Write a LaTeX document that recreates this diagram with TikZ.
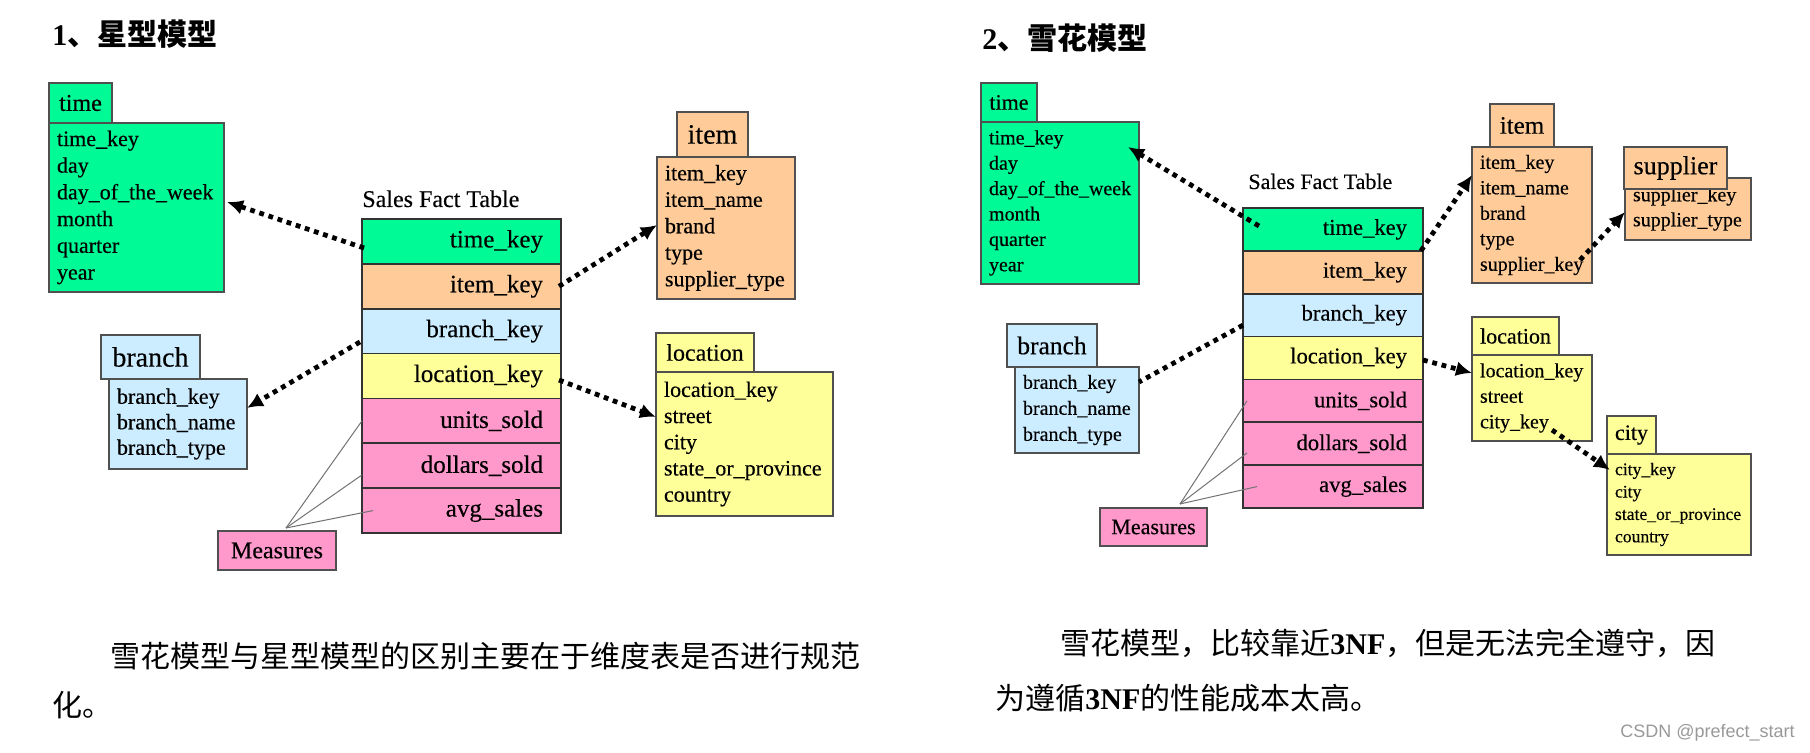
\documentclass[tikz,border=0pt]{standalone}
\usepackage{fontspec}
\setmainfont{Liberation Serif}
\newfontfamily\tabfont{Liberation Serif}[UprightFeatures = {FakeBold = 0.35}]
\newfontfamily\cjk{Noto Sans CJK SC}
\newfontfamily\markfont{Liberation Sans}
\usetikzlibrary{positioning,arrows.meta}
\definecolor{keygreen}{RGB}{0,250,150}
\definecolor{keyorange}{RGB}{255,204,153}
\definecolor{keyblue}{RGB}{204,236,255}
\definecolor{keyyellow}{RGB}{255,255,153}
\definecolor{keypink}{RGB}{255,153,204}
\definecolor{edge}{RGB}{80,80,80}
\begin{document}
\begin{tikzpicture}[x = 0.5pt, y = -0.5pt,
  head/.style = {draw = edge, line width = 0.6pt, anchor = north west, inner sep = 0pt, outer sep = 0pt},
  body/.style = {draw = edge, line width = 0.6pt, anchor = north west, inner xsep = 4pt, inner ysep = 0pt, outer sep = 0pt, align = left},
  frow/.style = {draw = black!80, line width = 0.8pt, anchor = north west, inner ysep = 0pt, outer sep = 0pt, align = right},
  rowa/.style = {frow, inner xsep = 9pt, text width = 81.5pt, minimum height = 22.43pt, font = \tabfont\fontsize{12.5}{15}\selectfont},
  rowb/.style = {frow, inner xsep = 8pt, text width = 74pt, minimum height = 21.43pt, font = \tabfont\fontsize{11.3}{13.5}\selectfont},
  link/.style = {line width = 2.4pt, dash pattern = on 2.4pt off 2.4pt, -{Latex[length = 8pt, width = 7.5pt]}},
  meas/.style = {draw = black!55, line width = 0.5pt},
  cn/.style = {anchor = west, inner sep = 0pt, font = \cjk\fontsize{15}{18}\selectfont}]
\fill [white] (0, 0) rectangle (1810, 753);

\node [cn, font = \cjk\bfseries\fontsize{15}{18}\selectfont] (title1) at (52, 34) {{\tabfont 1}、星型模型};
\node [anchor = base west, inner sep = 0pt, font = \tabfont\fontsize{12}{14}\selectfont] (fact1) at (362, 207) {Sales Fact Table};
\node [rowa, fill = keygreen] (f1time) at (362, 219) {time\_key};
\node [rowa, fill = keyorange, below = 0pt of f1time] (f1item) {item\_key};
\node [rowa, fill = keyblue, below = 0pt of f1item] (f1branch) {branch\_key};
\node [rowa, fill = keyyellow, below = 0pt of f1branch] (f1loc) {location\_key};
\node [rowa, fill = keypink, below = 0pt of f1loc] (f1units) {units\_sold};
\node [rowa, fill = keypink, below = 0pt of f1units] (f1dollars) {dollars\_sold};
\node [rowa, fill = keypink, below = 0pt of f1dollars] (f1avg) {avg\_sales};

\node [body, fill = keygreen, text width = 79.5pt, minimum height = 84.5pt, font = \tabfont\fontsize{11}{13.35}\selectfont] (t1body) at (49, 123) {time\_key\\day\\day\_of\_the\_week\\month\\quarter\\year};
\node [head, fill = keygreen, minimum width = 31.5pt, minimum height = 20pt, font = \tabfont\fontsize{12}{14}\selectfont] (t1head) at (49, 83) {time};
\node [body, fill = keyorange, text width = 61pt, minimum height = 71pt, font = \tabfont\fontsize{11}{13.25}\selectfont] (i1body) at (657, 157) {item\_key\\item\_name\\brand\\type\\supplier\_type};
\node [head, fill = keyorange, minimum width = 35.5pt, minimum height = 22.5pt, font = \tabfont\fontsize{14}{16}\selectfont] (i1head) at (677, 112) {item};
\node [body, fill = keyyellow, text width = 80.5pt, minimum height = 72pt, font = \tabfont\fontsize{11}{13.1}\selectfont] (l1body) at (656, 372) {location\_key\\street\\city\\state\_or\_province\\country};
\node [head, fill = keyyellow, minimum width = 49pt, minimum height = 19.5pt, font = \tabfont\fontsize{12}{14}\selectfont] (l1head) at (656, 333) {location};
\node [body, fill = keyblue, text width = 61pt, minimum height = 45pt, font = \tabfont\fontsize{11}{12.75}\selectfont] (b1body) at (109, 379) {branch\_key\\branch\_name\\branch\_type};
\node [head, fill = keyblue, minimum width = 49.5pt, minimum height = 22pt, font = \tabfont\fontsize{14}{16}\selectfont] (b1head) at (101, 335) {branch};
\node [head, fill = keypink, minimum width = 59pt, minimum height = 19.5pt, font = \tabfont\fontsize{12}{14}\selectfont] (m1) at (218, 531) {Measures};

\draw [link] ([xshift = 1pt, yshift = -3.3pt]f1time.west) -- ([xshift = 1.5pt, yshift = 2.75pt]t1body.east);
\draw [link] ([xshift = -1pt]f1item.east) -- ([yshift = 1.5pt]i1body.west);
\draw [link] ([xshift = -1pt, yshift = -5.4pt]f1branch.west) -- ([yshift = 8pt]b1body.east);
\draw [link] ([xshift = -1pt, yshift = -2pt]f1loc.east) -- ([yshift = 13.5pt]l1body.west);
\coordinate (m1top) at ([xshift = 4.5pt, yshift = 1.5pt]m1.north);
\draw [meas] (m1top) -- (f1units.west);
\draw [meas] (m1top) -- ([yshift = -4.6pt]f1dollars.west);
\draw [meas] (m1top) -- ([xshift = 5.5pt]f1avg.west);

\node [cn] (note1a) at (110, 656) {雪花模型与星型模型的区别主要在于维度表是否进行规范};
\node [cn] (note1b) at (52, 705) {化。};

\node [cn, font = \cjk\bfseries\fontsize{15}{18}\selectfont] (title2) at (982, 38) {{\tabfont 2}、雪花模型};
\node [anchor = base west, inner sep = 0pt, font = \tabfont\fontsize{11}{13}\selectfont] (fact2) at (1248, 189) {Sales Fact Table};
\node [rowb, fill = keygreen] (f2time) at (1243, 208) {time\_key};
\node [rowb, fill = keyorange, below = 0pt of f2time] (f2item) {item\_key};
\node [rowb, fill = keyblue, below = 0pt of f2item] (f2branch) {branch\_key};
\node [rowb, fill = keyyellow, below = 0pt of f2branch] (f2loc) {location\_key};
\node [rowb, fill = keypink, below = 0pt of f2loc] (f2units) {units\_sold};
\node [rowb, fill = keypink, below = 0pt of f2units] (f2dollars) {dollars\_sold};
\node [rowb, fill = keypink, below = 0pt of f2dollars] (f2avg) {avg\_sales};

\node [body, fill = keygreen, text width = 71pt, minimum height = 81pt, font = \tabfont\fontsize{10}{12.7}\selectfont] (t2body) at (981, 122) {time\_key\\day\\day\_of\_the\_week\\month\\quarter\\year};
\node [head, fill = keygreen, minimum width = 28pt, minimum height = 19.5pt, font = \tabfont\fontsize{11}{13}\selectfont] (t2head) at (981, 83) {time};
\node [body, fill = keyorange, text width = 52pt, minimum height = 68pt, font = \tabfont\fontsize{10}{12.75}\selectfont] (i2body) at (1472, 147) {item\_key\\item\_name\\brand\\type\\supplier\_key};
\node [head, fill = keyorange, minimum width = 32pt, minimum height = 21.5pt, font = \tabfont\fontsize{12.5}{15}\selectfont] (i2head) at (1490, 104) {item};
\node [body, fill = keyorange, text width = 55pt, minimum height = 31pt, font = \tabfont\fontsize{10}{12.5}\selectfont] (s2body) at (1625, 178) {supplier\_key\\supplier\_type};
\node [head, fill = keyorange, minimum width = 51.5pt, minimum height = 21pt, font = \tabfont\fontsize{13}{15}\selectfont] (s2head) at (1624, 147) {supplier};
\node [body, fill = keyyellow, text width = 52pt, minimum height = 43pt, font = \tabfont\fontsize{10}{12.75}\selectfont] (l2body) at (1472, 355) {location\_key\\street\\city\_key};
\node [head, fill = keyyellow, minimum width = 43.5pt, minimum height = 19pt, font = \tabfont\fontsize{11}{13}\selectfont] (l2head) at (1472, 317) {location};
\node [body, fill = keyyellow, text width = 64pt, minimum height = 50.5pt, font = \tabfont\fontsize{8.8}{11.2}\selectfont] (c2body) at (1607, 454) {city\_key\\city\\state\_or\_province\\country};
\node [head, fill = keyyellow, minimum width = 24.5pt, minimum height = 19pt, font = \tabfont\fontsize{11}{13}\selectfont] (c2head) at (1607, 416) {city};
\node [body, fill = keyblue, text width = 54pt, minimum height = 43pt, font = \tabfont\fontsize{10}{13}\selectfont] (b2body) at (1015, 367) {branch\_key\\branch\_name\\branch\_type};
\node [head, fill = keyblue, minimum width = 45pt, minimum height = 21.5pt, font = \tabfont\fontsize{12.75}{15}\selectfont] (b2head) at (1007, 324) {branch};
\node [head, fill = keypink, minimum width = 53.5pt, minimum height = 19pt, font = \tabfont\fontsize{11}{13}\selectfont] (m2) at (1100, 508) {Measures};

\draw [link] ([xshift = 8pt, yshift = 1.7pt]f2time.west) -- ([xshift = -5.5pt, yshift = -12.5pt]t2body.north east);
\draw [link] ([xshift = -1pt]f2time.south east) -- ([yshift = -14pt]i2body.north west);
\draw [link, -] ([yshift = -5pt]f2branch.west) -- ([yshift = -7.5pt]b2body.north east);
\draw [link] ([yshift = -1pt]f2loc.east) -- ([yshift = -9pt]l2body.north west);
\draw [link] ([xshift = -6pt, yshift = 11.5pt]i2body.south east) -- ([yshift = -1.5pt]s2body.west);
\draw [link] ([xshift = -20pt, yshift = 5.5pt]l2body.south east) -- ([xshift = 1.5pt, yshift = -8pt]c2body.north west);
\coordinate (m2top) at ([xshift = 13.25pt, yshift = 2pt]m2.north);
\draw [meas] (m2top) -- ([xshift = 2pt]f2units.west);
\draw [meas] (m2top) -- ([xshift = 2pt, yshift = -4.6pt]f2dollars.west);
\draw [meas] (m2top) -- ([xshift = 7pt]f2avg.west);

\node [cn] (note2a) at (1060, 643) {雪花模型，比较靠近{\rmfamily\bfseries 3NF}，但是无法完全遵守，因};
\node [cn] (note2b) at (995, 698) {为遵循{\rmfamily\bfseries 3NF}的性能成本太高。};
\node [anchor = east, inner sep = 0pt, text = black!40, font = \markfont\fontsize{9}{11}\selectfont] (mark) at (1795, 733) {CSDN @prefect\_start};
\end{tikzpicture}
\end{document}
